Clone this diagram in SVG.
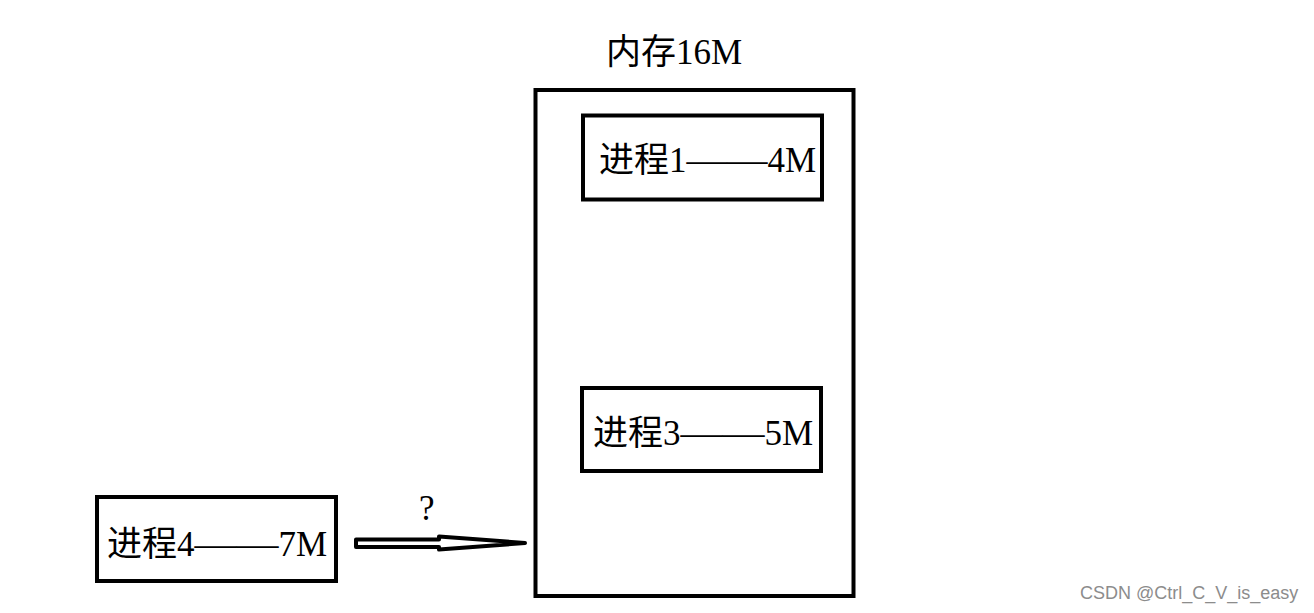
<svg xmlns="http://www.w3.org/2000/svg" width="1314" height="613" viewBox="0 0 1314 613">
<style>
.box{fill:#fff;stroke:#000;stroke-width:4}
.lbl{font-family:"Liberation Serif","Noto Sans CJK SC",serif;font-size:35px;fill:#000}
.wm{font-family:"Liberation Sans",Arial,sans-serif;font-size:18px;fill:#8c8c8c}
</style>
<rect width="1314" height="613" fill="#fff"/>
<g id="memory">
<rect class="box" x="535.5" y="90" width="318" height="506"/>
<text class="lbl" x="606" y="64">内存16M</text>
</g>
<g id="process1">
<rect class="box" x="583" y="115.5" width="239" height="84"/>
<text class="lbl" x="599" y="172">进程1<tspan textLength="81" lengthAdjust="spacingAndGlyphs">——</tspan>4M</text>
</g>
<g id="process3">
<rect class="box" x="582" y="388" width="239" height="83"/>
<text class="lbl" x="593" y="445">进程3<tspan textLength="84" lengthAdjust="spacingAndGlyphs">——</tspan>5M</text>
</g>
<g id="process4">
<rect class="box" x="97" y="497" width="239" height="84"/>
<text class="lbl" x="107" y="556">进程4<tspan textLength="84" lengthAdjust="spacingAndGlyphs">——</tspan>7M</text>
</g>
<g id="connectors">
<polygon points="356,539.5 439,539.5 439,536.5 525,543 439,549.5 439,547 356,547" fill="#fff" stroke="#000" stroke-width="4" stroke-linejoin="round"/>
<text class="lbl" x="419" y="520" font-size="30">?</text>
</g>
<text class="wm" x="1080" y="599">CSDN @Ctrl_C_V_is_easy</text>
</svg>
